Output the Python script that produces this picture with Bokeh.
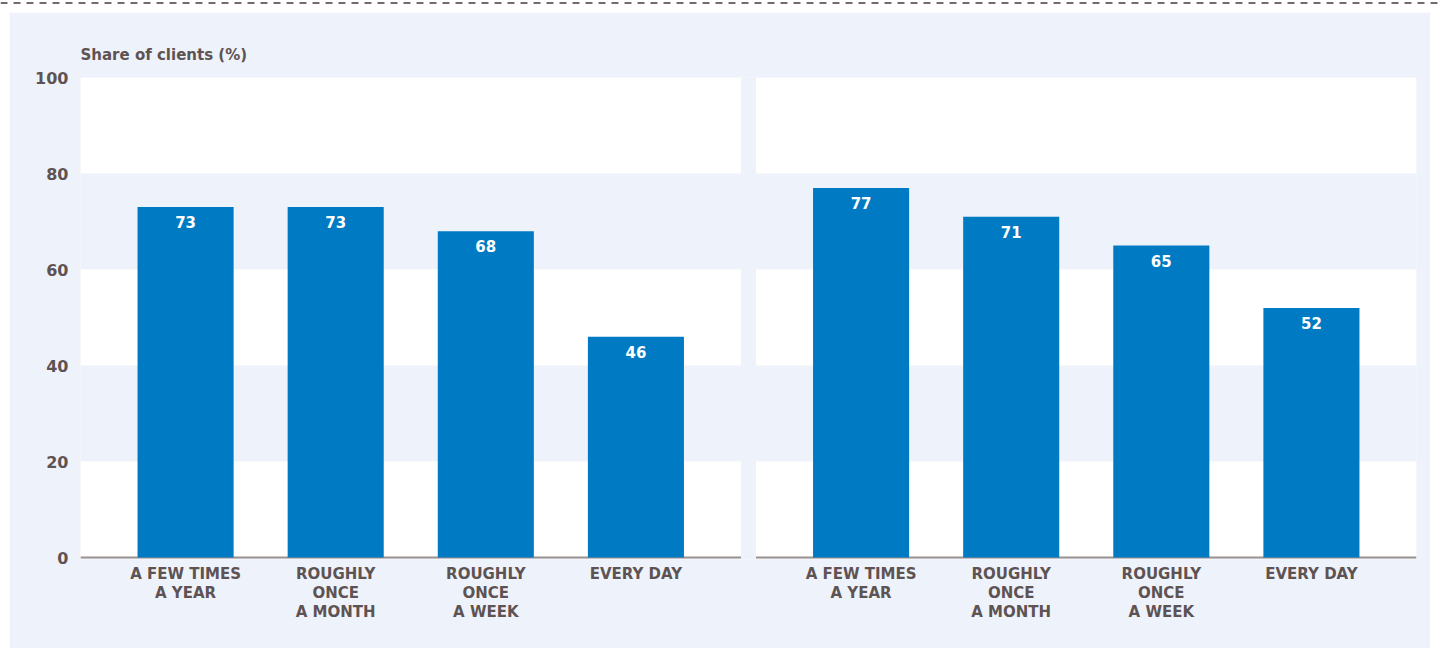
from bokeh.plotting import figure
from bokeh.models import Range1d, FixedTicker, Title, Spacer
from bokeh.layouts import column, row
from bokeh.embed import file_html
from bokeh.resources import INLINE
from bokeh.core.properties import value

# ---- data ----
categories = ["A FEW TIMES\nA YEAR", "ROUGHLY\nONCE\nA MONTH", "ROUGHLY\nONCE\nA WEEK", "EVERY DAY"]
left_values = [73, 73, 68, 46]
right_values = [77, 71, 65, 52]
y_ticks = [0, 20, 40, 60, 80, 100]
title_text = "Share of clients (%)"

# ---- styling ----
FONT = "DejaVu Sans"
TXT = "#5E5353"
BAR = "#007AC2"
PANEL = "#EEF2FA"
AXIS = "#9B9191"

left_x = [float(i) for i in range(len(categories))]
right_x = [i + 4.5 for i in range(len(categories))]
bar_w = 0.64
L0, L1 = -0.7, 3.7
R0, R1 = 3.8, 8.2

W = 1421

strip = figure(width=1439, height=12, x_range=Range1d(0, 1), y_range=Range1d(0, 12),
               toolbar_location=None, output_backend="svg",
               x_axis_location=None, y_axis_location=None, min_border=0)
strip.outline_line_color = None
strip.grid.visible = False
strip.background_fill_color = "white"
strip.border_fill_color = "white"
strip.segment(x0=[0], y0=[9.5], x1=[1], y1=[9.5], line_color="#766A6A",
              line_width=2, line_dash="7 6")

p = figure(width=W, height=636, x_range=Range1d(L0, R1), y_range=Range1d(-0.4, 100),
           toolbar_location=None, output_backend="svg",
           min_border_left=71, min_border_right=14, min_border_top=65, min_border_bottom=89)
p.background_fill_color = PANEL
p.border_fill_color = PANEL
p.outline_line_color = None
p.grid.visible = False

t = Title(text=title_text, align="left", text_font=FONT, text_font_size="15px",
          text_font_style="bold", text_color=TXT, standoff=27)
p.add_layout(t, "above")

# white bands
band_bottoms = [0, 40, 80]
band_tops = [20, 60, 100]
for a, b in [(L0, L1), (R0, R1)]:
    p.quad(left=[a] * 3, right=[b] * 3, bottom=band_bottoms, top=band_tops,
           fill_color="white", line_color=None)

# baseline per panel
p.segment(x0=[L0, R0], y0=[0, 0], x1=[L1, R1], y1=[0, 0], line_color=AXIS, line_width=2)

# bars
xs = left_x + right_x
vals = left_values + right_values
p.vbar(x=xs, top=vals, bottom=0, width=bar_w, fill_color=BAR, line_color=None)
p.text(x=xs, y=vals, text=[str(v) for v in vals], text_align="center",
       text_baseline="top", y_offset=9, text_color="white",
       text_font=value(FONT), text_font_size="15px", text_font_style="bold")

# axes
p.xaxis.ticker = FixedTicker(ticks=xs)
p.xaxis.major_label_overrides = {x: c for x, c in zip(xs, categories + categories)}
p.xaxis.axis_line_color = None
p.xaxis.major_tick_line_color = None
p.xaxis.minor_tick_line_color = None
p.xaxis.major_tick_out = 0
p.xaxis.major_tick_in = 0
p.xaxis.major_label_standoff = 5
p.xaxis.major_label_text_font = FONT
p.xaxis.major_label_text_font_size = "15px"
p.xaxis.major_label_text_font_style = "bold"
p.xaxis.major_label_text_color = TXT
p.xaxis.major_label_text_line_height = 1.08

p.yaxis.ticker = FixedTicker(ticks=y_ticks)
p.yaxis.axis_line_color = None
p.yaxis.major_tick_line_color = None
p.yaxis.minor_tick_line_color = None
p.yaxis.major_tick_out = 0
p.yaxis.major_tick_in = 0
p.yaxis.major_label_standoff = 12
p.yaxis.major_label_text_font = FONT
p.yaxis.major_label_text_font_size = "16px"
p.yaxis.major_label_text_font_style = "bold"
p.yaxis.major_label_text_color = TXT

layout = column(strip, row(Spacer(width=9, height=636), p, spacing=0), spacing=0)
open("out.html", "w").write(file_html(layout, INLINE))
